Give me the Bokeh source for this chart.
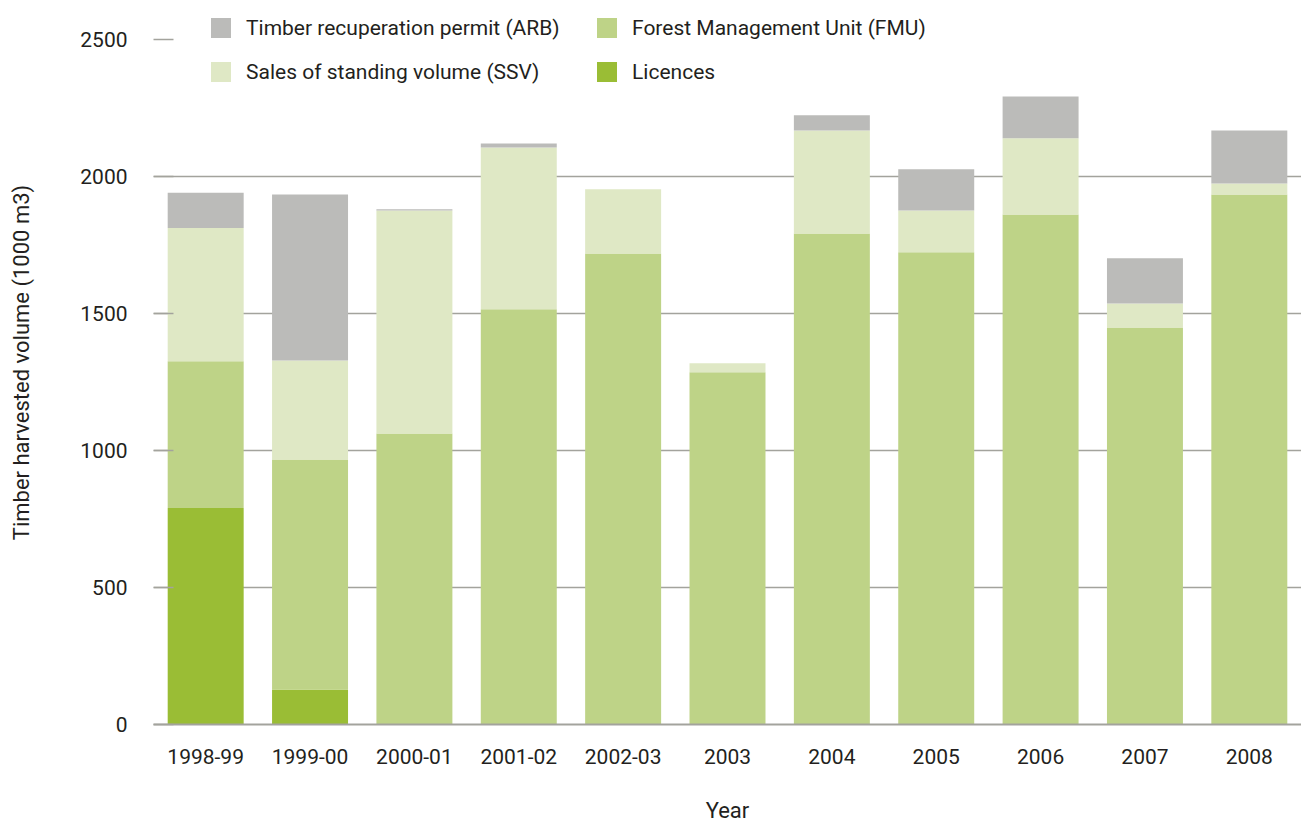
from bokeh.plotting import figure
from bokeh.models import Range1d, FixedTicker, Legend, LegendItem, ColumnDataSource, FactorRange
from bokeh.embed import file_html
from bokeh.resources import INLINE

years = ["1998-99", "1999-00", "2000-01", "2001-02", "2002-03", "2003",
         "2004", "2005", "2006", "2007", "2008"]
licences = [790, 128, 0, 0, 0, 0, 0, 0, 0, 0, 0]
fmu = [536, 839, 1062, 1515, 1719, 1285, 1792, 1723, 1861, 1449, 1934]
ssv = [486, 361, 814, 591, 234, 33, 376, 153, 278, 87, 40]
arb = [128, 606, 4, 14, 0, 0, 55, 150, 153, 165, 194]

series_keys = ["licences", "fmu", "ssv", "arb"]
series_names = ["Licences", "Forest Management Unit (FMU)",
                "Sales of standing volume (SSV)", "Timber recuperation permit (ARB)"]
colors = ["#9abd35", "#bed387", "#dfe8c5", "#bbbbb9"]
y_ticks = [0, 500, 1000, 1500, 2000, 2500]

source = ColumnDataSource(dict(year=years, licences=licences, fmu=fmu, ssv=ssv, arb=arb))

FONT = "Roboto"
TXT = "#231f20"

p = figure(x_range=FactorRange(*years), y_range=Range1d(0, 2642),
           width=1301, height=825, output_backend="svg", toolbar_location=None,
           min_border_left=153, min_border_right=0, min_border_top=0, min_border_bottom=101)
p.outline_line_color = None
p.background_fill_color = "white"

renderers = p.vbar_stack(series_keys, x="year", width=0.728, source=source,
                         fill_color=colors, line_color=None)

# grid
p.xgrid.visible = False
p.ygrid.ticker = FixedTicker(ticks=y_ticks[1:-1])
p.ygrid.grid_line_color = "#a3a39d"
p.ygrid.grid_line_width = 1.5

# y axis
p.yaxis.ticker = FixedTicker(ticks=y_ticks)
p.yaxis.axis_line_color = None
p.yaxis.major_tick_in = 20
p.yaxis.major_tick_out = 0
p.yaxis.major_tick_line_color = "#a3a39d"
p.yaxis.major_tick_line_width = 1.5
p.yaxis.minor_tick_line_color = None
p.yaxis.major_label_standoff = 26
p.yaxis.major_label_text_font = FONT
p.yaxis.major_label_text_font_size = "21px"
p.yaxis.major_label_text_color = TXT
p.yaxis.axis_label = "Timber harvested volume (1000 m3)"
p.yaxis.axis_label_text_font = FONT
p.yaxis.axis_label_text_font_size = "22px"
p.yaxis.axis_label_text_font_style = "normal"
p.yaxis.axis_label_text_color = TXT
p.yaxis.axis_label_standoff = 43

# x axis
p.xaxis.axis_line_color = "#a3a39d"
p.xaxis.axis_line_width = 2
p.xaxis.major_tick_line_color = None
p.xaxis.minor_tick_line_color = None
p.xaxis.major_label_standoff = 18
p.xaxis.major_label_text_font = FONT
p.xaxis.major_label_text_font_size = "21px"
p.xaxis.major_label_text_color = TXT
p.xaxis.axis_label = "Year"
p.xaxis.axis_label_text_font = FONT
p.xaxis.axis_label_text_font_size = "22px"
p.xaxis.axis_label_text_font_style = "normal"
p.xaxis.axis_label_text_color = TXT
p.xaxis.axis_label_standoff = 31

r_lic, r_fmu, r_ssv, r_arb = renderers

def make_legend(items, loc):
    lg = Legend(items=items, location=loc, orientation="vertical",
                padding=0, margin=0, spacing=19,
                glyph_width=25, glyph_height=25, label_height=25,
                label_standoff=13,
                label_text_font=FONT, label_text_font_size="21px",
                label_text_color=TXT,
                border_line_color=None, background_fill_alpha=0)
    return lg

leg_a = make_legend([LegendItem(label=series_names[3], renderers=[r_arb]),
                     LegendItem(label=series_names[2], renderers=[r_ssv])], (55, 640))
leg_b = make_legend([LegendItem(label=series_names[1], renderers=[r_fmu]),
                     LegendItem(label=series_names[0], renderers=[r_lic])], (441, 640))
p.add_layout(leg_a)
p.add_layout(leg_b)

open("out.html", "w").write(file_html(p, INLINE))
